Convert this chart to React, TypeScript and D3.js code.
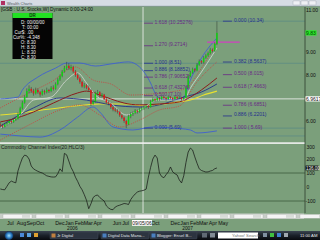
import React from 'react';
import * as d3 from 'd3';

// ---------- DATA ----------
const firstWeek = new Date(2005, 5, 10);
// weekly candles [open, high, low, close]
const candles: [number, number, number, number][] = [
  [5.85,5.95,5.72,5.80],[5.80,5.88,5.68,5.75],[5.75,5.92,5.72,5.85],[5.85,5.98,5.80,5.90],
  [5.90,6.08,5.86,6.00],[6.00,6.05,5.88,5.95],[5.95,6.12,5.92,6.05],[6.05,6.18,6.00,6.10],
  [6.10,6.38,6.06,6.30],[6.30,6.62,6.25,6.55],[6.55,6.88,6.50,6.80],[6.80,7.12,6.75,7.05],
  [7.05,7.42,7.00,7.30],[7.30,7.55,7.20,7.40],[7.40,7.48,7.22,7.30],[7.30,7.40,7.10,7.20],
  [7.20,7.45,7.15,7.35],[7.35,7.42,7.18,7.25],[7.25,7.30,7.05,7.15],[7.15,7.38,7.10,7.30],
  [7.30,7.36,7.15,7.25],[7.25,7.45,7.20,7.35],[7.35,7.40,7.22,7.30],[7.30,7.52,7.25,7.45],
  [7.45,7.55,7.32,7.40],[7.40,7.68,7.36,7.60],[7.60,7.88,7.55,7.80],[7.80,8.02,7.74,7.95],
  [7.95,8.22,7.90,8.15],[8.15,8.40,8.10,8.30],[8.30,8.57,8.22,8.40],[8.40,8.52,8.22,8.30],
  [8.30,8.45,8.20,8.35],[8.35,8.40,8.08,8.15],[8.15,8.22,7.92,8.00],[8.00,8.08,7.78,7.85],
  [7.85,7.92,7.62,7.70],[7.70,7.75,7.45,7.50],[7.50,7.65,7.42,7.55],[7.55,7.60,7.38,7.45],
  [7.45,7.55,7.30,7.35],[7.35,7.40,6.65,6.75],[6.75,6.95,6.70,6.85],[6.85,7.28,6.80,7.20],
  [7.20,7.35,7.12,7.25],[7.25,7.30,7.02,7.10],[7.10,7.22,7.02,7.15],[7.15,7.18,6.90,6.95],
  [6.95,7.00,6.75,6.80],[6.80,6.88,6.68,6.75],[6.75,6.80,6.52,6.60],[6.60,6.65,6.42,6.50],
  [6.50,6.58,6.38,6.45],[6.45,6.52,6.32,6.40],[6.40,6.45,6.18,6.25],[6.25,6.30,6.08,6.15],
  [6.15,6.20,5.92,6.00],[6.00,6.05,5.69,5.85],[5.85,6.28,5.82,6.20],[6.20,6.38,6.12,6.30],
  [6.30,6.42,6.22,6.35],[6.35,6.52,6.30,6.45],[6.45,6.50,6.32,6.40],[6.40,6.58,6.36,6.50],
  [6.50,6.62,6.45,6.55],[6.55,6.68,6.48,6.60],[6.60,6.72,6.55,6.65],[6.65,6.70,6.52,6.60],
  [6.60,6.92,6.58,6.85],[6.85,7.02,6.80,6.95],[6.95,7.00,6.82,6.90],[6.90,7.08,6.86,7.00],
  [7.00,7.05,6.88,6.95],[6.95,7.12,6.92,7.05],[7.05,7.10,6.93,7.00],[7.00,7.04,6.88,6.95],
  [6.95,7.12,6.92,7.05],[7.05,7.08,6.94,7.00],[7.00,7.03,6.88,6.95],[6.95,7.12,6.92,7.05],
  [7.05,7.08,6.93,6.98],[6.98,7.10,6.95,7.02],[7.02,7.05,6.88,6.95],[6.95,7.06,6.92,7.00],
  [7.00,7.52,6.98,7.45],[7.45,8.02,7.40,7.95],[7.95,8.18,7.90,8.10],[8.10,8.32,8.05,8.25],
  [8.25,8.30,8.12,8.20],[8.20,8.52,8.16,8.45],[8.45,8.68,8.40,8.60],[8.60,8.65,8.48,8.55],
  [8.55,8.82,8.50,8.75],[8.75,8.92,8.70,8.85],[8.85,9.02,8.80,8.95],[8.95,9.18,8.90,9.10],
  [9.10,9.15,8.98,9.05],[9.05,9.42,9.00,9.35],[9.35,10.34,9.30,9.83],
];

const cciValues: number[] = [
  -14,-18,-20,5,30,42,35,30,115,165,207,228,222,200,150,130,120,112,105,100,
  90,80,76,72,71,72,95,130,110,240,230,185,140,110,70,40,5,-20,-55,-95,
  -155,-120,-75,-62,-57,-75,-88,-100,-135,-150,-160,-162,-143,-135,-130,-124,-118,-120,-125,-90,
  -68,-50,-36,-30,-27,-23,-15,71,140,200,228,207,100,75,66,88,108,143,108,95,
  86,50,29,80,175,250,278,264,215,170,130,118,112,107,108,114,118,130,136,
];

// overlay lines: [week index, price]
const upperBand: [number, number][] = [[0,6.96],[8,7.04],[10,7.35],[17,7.91],[25,8.30],[30,8.52],[36,8.52],[43,8.39],[50,8.48],[58,8.57],[63,8.35],[68,7.65],[70,7.22],[73,6.95],[79,6.93],[83,7.04],[86,7.78],[90,8.57],[98,9.61]];
const lowerBand: [number, number][] = [[0,5.43],[9,5.35],[18,5.30],[27,5.61],[35,6.17],[42,6.61],[45,6.39],[51,5.74],[60,5.61],[69,5.74],[77,5.70],[86,5.61],[89,5.48],[98,5.57]];
const maroonMA: [number, number][] = [[0,5.96],[4,6.04],[15,6.39],[24,6.78],[35,7.22],[39,7.30],[45,7.13],[50,6.96],[56,6.78],[63,6.70],[72,6.74],[81,6.83],[86,7.04],[91,7.35],[98,7.87]];
const navyMA: [number, number][] = [[0,5.78],[15,6.57],[27,7.0],[39,6.91],[50,6.70],[63,6.61],[72,6.70],[83,7.04],[91,7.26],[98,7.61]];
const yellowMA: [number, number][] = [[0,6.26],[9,6.35],[19,6.48],[30,6.61],[45,6.74],[57,6.74],[66,6.65],[71,6.70],[81,6.83],[86,6.91],[92,7.13],[98,7.30]];
const grayMA: [number, number][] = [[0,5.70],[9,6.26],[15,6.91],[23,7.04],[30,7.78],[35,8.09],[39,7.65],[43,7.13],[50,6.78],[57,6.26],[63,6.48],[72,6.91],[83,6.91],[86,7.43],[91,8.13],[98,9.17]];
const upperEnv: [number, number][] = [[0,6.57],[11,7.13],[23,7.70],[34,8.35],[42,7.78],[50,7.61],[59,7.13],[68,7.17],[77,7.26],[84,7.43],[91,8.30],[98,9.43]];
const lowerEnv: [number, number][] = [[0,5.17],[13,5.83],[27,6.48],[36,6.70],[45,6.26],[54,5.74],[63,6.04],[72,6.48],[81,6.65],[89,7.70],[98,8.57]];

const fibLeftLabels = ['1.618 (10.25276)','1.270 (9.2714)','1.000 (8.51)','0.886 (8.18852)','0.786 (7.90652)','0.618 (7.43276)','0.500 (7.10)','0.000 (5.69)'];
const fibLeftValues = [10.25276, 9.2714, 8.51, 8.18852, 7.90652, 7.43276, 7.10, 5.69];
const fibLeftNavy = [false, false, true, true, false, false, false, true];
const fibRightLabels = ['0.000 (10.34)','0.382 (8.5637)','0.500 (8.015)','0.618 (7.4663)','0.786 (6.6851)','0.886 (6.2201)','1.000 ( 5.69)'];
const fibRightValues = [10.34, 8.5637, 8.015, 7.4663, 6.6851, 6.2201, 5.69];
const fibRightNavy = [true, true, false, false, false, true, false];
const fibLeftDate = new Date(2006, 8, 5);
const fibRightDate = new Date(2007, 4, 16);

const levelLines = [10.34, 8.51, 5.69, 5.35];
const targetLevel = 9.43;
const targetFrom = new Date(2007, 2, 27);
const targetTo = new Date(2007, 6, 8);

const cursorDate = new Date(2006, 8, 5);
const cursorPrice = 6.9617;

const priceTicks = [6, 7, 8, 9, 10, 11];
const cciTicks = [300, 200, 100, 0, -100];
const cciRefLevels = [100, -100];

const monthLabels = ['Jul','Aug','Sep','Oct','Dec','Jan','Feb','Mar','Apr','Jun','Jul','Oct','Dec','Jan','Feb','Mar','Apr','May'];
const monthDates = ['2005-07-01','2005-08-01','2005-09-01','2005-10-01','2005-12-01','2006-01-01','2006-02-01','2006-03-01','2006-04-01','2006-06-01','2006-07-01','2006-10-01','2006-12-01','2007-01-01','2007-02-01','2007-03-01','2007-04-01','2007-05-01'];
const yearLabels = ['2006', '2007'];
const yearDates = ['2006-01-01', '2007-01-01'];

const infoLabels = ['D:', 'T:', 'Cur$:', 'Cur%:', 'O:', 'H:', 'L:', 'C:'];
const infoValues = ['00/00/00', '00:00', '.00', '-4.348', '8.30', '8.30', '8.30', '8.30'];

// ---------- COMPONENT ----------
const BG = '#7b9f7b';
const FONT = 'Liberation Sans, Arial, sans-serif';
const PURPLE = '#6a2a86';
const NAVY = '#25308e';

function parseD(s: string) { const [a, b, c] = s.split('-').map(Number); return new Date(a, b - 1, c); }

export default function App() {
  const plotR = 305;
  const x = d3.scaleTime().domain([new Date(2005, 5, 9), new Date(2008, 0, 31)]).range([0, plotR]);
  const y = d3.scaleLinear().domain([5, 11]).range([144, 6]);
  const yc = d3.scaleLinear().domain([-200, 300]).range([215, 145]);
  const dates = candles.map((_, i) => d3.timeDay.offset(firstWeek, 7 * i));
  const xi = (i: number) => x(dates[i]);

  const ovl = d3.line<[number, number]>().x(d => xi(d[0])).y(d => y(d[1])).curve(d3.curveMonotoneX);
  const cciLine = d3.line<number>().x((_, i) => xi(i)).y(d => yc(d)).curve(d3.curveLinear);

  const lastClose = candles[candles.length - 1][3];
  const lastCci = cciValues[cciValues.length - 1];
  const cx = x(cursorDate);

  const visiblePriceTicks = priceTicks.filter(v =>
    Math.abs(y(v) - y(lastClose)) > 5 && Math.abs(y(v) - y(cursorPrice)) > 5);

  const overlays: { d: [number, number][]; c: string; w: number; dash?: string }[] = [
    { d: upperBand, c: '#4060d0', w: 0.9 },
    { d: lowerBand, c: '#4060d0', w: 0.9 },
    { d: yellowMA, c: '#e8e030', w: 1.1 },
    { d: navyMA, c: '#20308a', w: 0.9 },
    { d: maroonMA, c: '#8a1c1c', w: 1.0 },
    { d: upperEnv, c: '#d03a3a', w: 0.8, dash: '1,1.2' },
    { d: lowerEnv, c: '#d03a3a', w: 0.8, dash: '1,1.2' },
    { d: grayMA, c: '#d4d8d4', w: 0.8 },
  ];

  return (
    <svg width={320} height={240} style={{ position: 'fixed', left: 0, top: 0, display: 'block' }} fontFamily={FONT}>
      <defs>
        <clipPath id="pclip"><rect x={0} y={8} width={plotR} height={134} /></clipPath>
        <clipPath id="cclip"><rect x={0} y={145} width={plotR} height={68} /></clipPath>
        <linearGradient id="tb" x1="0" x2="0" y1="0" y2="1">
          <stop offset="0" stopColor="#3a4450" />
          <stop offset="0.5" stopColor="#1a2028" />
          <stop offset="1" stopColor="#080a0e" />
        </linearGradient>
        <radialGradient id="orb">
          <stop offset="0" stopColor="#9fe0ff" />
          <stop offset="0.6" stopColor="#2a7ac0" />
          <stop offset="1" stopColor="#10305a" />
        </radialGradient>
      </defs>
      <rect x={0} y={0} width={320} height={240} fill={BG} />

      {/* title bar */}
      <rect x={0} y={0} width={320} height={6} fill="#d6dce4" />
      <line x1={0} x2={320} y1={6.2} y2={6.2} stroke="#8c98a4" strokeWidth={0.6} />
      <rect x={1} y={1} width={4} height={4} fill="#b03060" />
      <text x={7} y={4.6} fontSize={4} fill="#505860">Wealth Charts</text>
      {[293, 301, 309].map((bx, k) => (
        <rect key={k} x={bx} y={0.8} width={7} height={4.2} fill="#eef0f4" stroke="#98a0ac" strokeWidth={0.4} rx={0.6} />
      ))}

      {/* level lines */}
      {levelLines.map((v, k) => (
        <line key={k} x1={0} x2={plotR} y1={y(v)} y2={y(v)} stroke="#5c8c84" strokeWidth={0.8} />
      ))}
      {/* CCI reference lines */}
      {cciRefLevels.map((v, k) => (
        <line key={k} x1={0} x2={plotR} y1={yc(v)} y2={yc(v)} stroke="#3d5a3d" strokeWidth={0.8} />
      ))}

      {/* crosshair */}
      <line x1={cx} x2={cx} y1={7} y2={213} stroke="#f4f4f4" strokeWidth={0.8} />
      <line x1={0} x2={plotR} y1={y(cursorPrice)} y2={y(cursorPrice)} stroke="#f4f4f4" strokeWidth={0.8} />

      {/* overlays */}
      <g clipPath="url(#pclip)">
        {overlays.map((o, k) => (
          <path key={k} d={ovl(o.d) || ''} fill="none" stroke={o.c} strokeWidth={o.w} strokeDasharray={o.dash} />
        ))}
        {/* target line */}
        <line x1={x(targetFrom)} x2={x(targetTo)} y1={y(targetLevel)} y2={y(targetLevel)} stroke="#d040c0" strokeWidth={1.3} />
        {/* candles */}
        {candles.map(([o, h, l, c], i) => {
          const px = xi(i);
          const up = c >= o;
          const top = y(Math.max(o, c));
          const bh = Math.max(0.7, Math.abs(y(o) - y(c)));
          return (
            <g key={i}>
              <line x1={px} x2={px} y1={y(h)} y2={y(l)} stroke="#3a4a3e" strokeWidth={0.6} />
              <rect x={px - 0.75} y={top} width={1.5} height={bh} fill={up ? '#10d010' : '#e01818'} />
            </g>
          );
        })}
      </g>

      {/* fib labels */}
      {fibLeftLabels.map((t, k) => {
        const yy = y(fibLeftValues[k]);
        const col = fibLeftNavy[k] ? NAVY : PURPLE;
        const x0 = x(fibLeftDate);
        return (
          <g key={'l' + k}>
            <line x1={x0 + 1} x2={x0 + 10} y1={yy} y2={yy} stroke={col} strokeWidth={0.8} />
            <text x={x0 + 11.5} y={yy + 0.5} fontSize={5} fill={col}>{t}</text>
          </g>
        );
      })}
      {fibRightLabels.map((t, k) => {
        const yy = y(fibRightValues[k]);
        const col = fibRightNavy[k] ? NAVY : PURPLE;
        const x0 = x(fibRightDate);
        return (
          <g key={'r' + k}>
            <line x1={x0} x2={x0 + 9} y1={yy} y2={yy} stroke={col} strokeWidth={0.8} />
            <text x={x0 + 11} y={yy + 0.5} fontSize={5} fill={col}>{t}</text>
          </g>
        );
      })}

      {/* panel separator */}
      <rect x={0} y={142.3} width={plotR} height={1.6} fill="#f0f0f0" />

      {/* CCI */}
      <text x={1} y={149} fontSize={5} fill="#1a1a1a">Commodity Channel Index(20,HLC/3)</text>
      <g clipPath="url(#cclip)">
        <path d={cciLine(cciValues) || ''} fill="none" stroke="#101010" strokeWidth={0.7} />
      </g>

      {/* right axis */}
      <line x1={plotR} x2={plotR} y1={7} y2={213} stroke="#2e3e2e" strokeWidth={0.8} />
      {visiblePriceTicks.map((v, k) => (
        <text key={k} x={306} y={Math.max(y(v), 10) + 1.8} fontSize={5} fill="#101010">{v.toFixed(2)}</text>
      ))}
      <rect x={305.5} y={y(lastClose) - 2.6} width={11} height={5.2} fill="#22ee22" />
      <text x={306} y={y(lastClose) + 1.8} fontSize={5} fill="#103010">{lastClose.toFixed(2)}</text>
      <rect x={305.5} y={y(cursorPrice) - 2.6} width={14.5} height={5.2} fill="#ffffff" />
      <text x={306} y={y(cursorPrice) + 1.8} fontSize={5} fill="#101010">{cursorPrice.toFixed(4)}</text>
      {cciTicks.map((v, k) => (
        <text key={k} x={v < 0 ? 305.5 : 306.5} y={Math.max(yc(v), 147) + 1.8} fontSize={5} fill="#101010">{v}</text>
      ))}
      <rect x={305.5} y={yc(lastCci) - 2.4} width={13} height={4.8} fill="#101010" />
      <text x={306} y={yc(lastCci) + 1.6} fontSize={4.5} fill="#f0f0f0">{lastCci.toFixed(2)}</text>

      {/* header */}
      <text x={1} y={11.2} fontSize={4.8} fill="#101010">[GSB : U.S. Stocks,W] Dynamic 0:00-24:00</text>

      {/* info box */}
      <rect x={12.5} y={13} width={40} height={46} fill="#050505" />
      <rect x={12.5} y={13} width={40} height={5} fill="#22e022" />
      <text x={32.5} y={17.2} fontSize={4.5} fill="#103010" textAnchor="middle" fontWeight="bold">DR</text>
      {infoLabels.map((t, k) => (
        <g key={k}>
          <text x={25.5} y={23.6 + k * 5} fontSize={4.5} fill="#f2f2f2" textAnchor="end">{t}</text>
          <text x={27} y={23.6 + k * 5} fontSize={4.5} fill="#f2f2f2">{infoValues[k]}</text>
        </g>
      ))}

      {/* scroll strip */}
      <rect x={0} y={213.5} width={plotR - 1} height={5.5} fill="#c8cec8" />
      {d3.range(0, 300, 33).map((sx, k) => (
        <g key={k}>
          <rect x={sx + 3} y={214.3} width={29} height={4} fill="#f4f4f4" stroke="#a0a8a0" strokeWidth={0.3} />
          <rect x={sx + 22} y={214.8} width={8} height={3} fill="#d8dcd8" />
        </g>
      ))}

      {/* x axis labels */}
      {monthLabels.map((t, k) => (
        <text key={k} x={x(parseD(monthDates[k]))} y={224.5} fontSize={5.3} fill="#101010">{t}</text>
      ))}
      {yearLabels.map((t, k) => (
        <text key={k} x={x(parseD(yearDates[k])) + 2} y={230} fontSize={4.8} fill="#101010">{t}</text>
      ))}
      <rect x={cx - 11} y={220} width={20} height={5.8} fill="#ffffff" />
      <text x={cx - 1} y={224.6} fontSize={5} fill="#101010" textAnchor="middle">{d3.timeFormat('%m/%d/%y')(cursorDate)}</text>

      {/* taskbar */}
      <rect x={0} y={231} width={320} height={9} fill="url(#tb)" />
      <circle cx={9} cy={235.6} r={4.4} fill="url(#orb)" />
      <rect x={20} y={233} width={4} height={4} fill="#4a88d8" />
      <rect x={27} y={233} width={4} height={4} fill="#5aa0e0" />
      <rect x={34} y={233} width={4} height={4} fill="#e0a030" />
      {[['Jr Digital', 50, 48], ['Digital Data Mana...', 101, 48], ['Blogger: Ensel B...', 150, 47]].map(([t, bx, bw], k) => (
        <g key={k}>
          <rect x={bx as number} y={232} width={bw as number} height={7} fill="#2c3440" stroke="#4a5460" strokeWidth={0.4} rx={0.8} />
          <rect x={(bx as number) + 1.5} y={233.5} width={4} height={4} fill={k === 0 ? '#c08040' : '#4a80c0'} />
          <text x={(bx as number) + 7} y={237.4} fontSize={4.2} fill="#e0e4ea">{t as string}</text>
        </g>
      ))}
      <rect x={202} y={233} width={5} height={4.5} fill="#606a74" />
      <rect x={210} y={233} width={5} height={4.5} fill="#808a94" />
      <rect x={218} y={232.5} width={40} height={6} fill="#ffffff" />
      <text x={232} y={237.2} fontSize={4.2} fill="#707070">Yahoo! Search</text>
      <rect x={263} y={233} width={4} height={4} fill="#8090a0" />
      <rect x={270} y={233} width={4} height={4} fill="#40c040" />
      <rect x={277} y={233} width={4} height={4} fill="#4080d0" />
      <rect x={284} y={233} width={4} height={4} fill="#a0a8b0" />
      <text x={300} y={237.4} fontSize={4.2} fill="#e8ecf0">11:00 AM</text>
    </svg>
  );
}
